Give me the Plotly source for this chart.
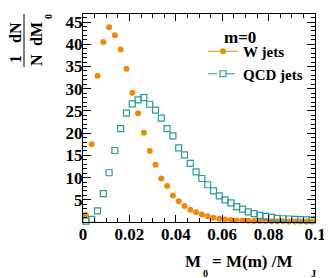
import numpy as np
import plotly.graph_objects as go

# ---- data ----
bin_lo, bin_hi, n_bins = 0.0, 0.1, 40
w_jets = [1.6, 17.5, 32.9, 40.5, 43.8, 42.0, 38.8, 34.5, 29.1, 24.5,
          20.1, 16.0, 12.9, 9.8, 8.1, 6.0, 4.7, 3.6, 2.8, 2.2,
          1.7, 1.3, 0.95, 0.75, 0.58, 0.45, 0.38, 0.33, 0.29, 0.26,
          0.24, 0.22, 0.20, 0.18, 0.17, 0.16, 0.15, 0.14, 0.13, 0.12]
qcd_jets = [0.2, 0.6, 2.5, 6.4, 11.1, 16.1, 21.0, 24.5, 26.6, 27.5,
            28.0, 26.5, 25.2, 23.4, 21.0, 19.4, 16.7, 15.1, 13.2, 11.3,
            9.8, 8.4, 7.0, 5.9, 5.0, 4.3, 3.5, 2.9, 2.3, 1.9,
            1.5, 1.3, 1.05, 0.85, 0.75, 0.7, 0.6, 0.55, 0.5, 0.5]
y_ticks = [5, 10, 15, 20, 25, 30, 35, 40, 45]

edges = np.linspace(bin_lo, bin_hi, n_bins + 1)
centers = 0.5 * (edges[:-1] + edges[1:])

ORANGE = "#ef8a0e"
TEAL = "#2a9a9a"
FONT = "Liberation Serif"

# page body has an 8px default margin: the figure starts at (8, 8) in the window
OFF = 8
WIN_W, WIN_H = 332, 278
W, H = WIN_W - OFF, WIN_H - OFF
# plot area in window pixels: x 83..315, y 14..222
X0, X1, Y0, Y1 = 83, 315, 14, 222
L, R, T, B = X0 - OFF, WIN_W - X1, Y0 - OFF, WIN_H - Y1
pw, ph = X1 - X0, Y1 - Y0


def px(x):
    return (x - X0) / pw


def py(y):
    return (Y1 - y) / ph


fig = go.Figure()
fig.add_trace(go.Scatter(x=centers, y=w_jets, mode="markers", showlegend=False,
                         marker=dict(symbol="circle", size=6, color=ORANGE),
                         cliponaxis=False))
fig.add_trace(go.Scatter(x=centers, y=qcd_jets, mode="markers", showlegend=False,
                         marker=dict(symbol="square-open", size=6, color=TEAL,
                                     line=dict(width=1.2, color=TEAL)),
                         cliponaxis=False))
# legend entries
fig.add_trace(go.Scatter(x=[None], y=[None], mode="lines+markers", name="W jets",
                         marker=dict(symbol="circle", size=6, color=ORANGE),
                         line=dict(color=ORANGE, width=1)))
fig.add_trace(go.Scatter(x=[None], y=[None], mode="lines+markers", name="QCD jets",
                         marker=dict(symbol="square-open", size=6, color=TEAL,
                                     line=dict(width=1.2, color=TEAL)),
                         line=dict(color=TEAL, width=1, dash="dash")))

axis_common = dict(showline=True, linecolor="black", linewidth=1, mirror="ticks",
                   ticks="inside", tickcolor="black", showgrid=False, zeroline=False,
                   automargin=False,
                   tickfont=dict(family=FONT, size=17, color="black", weight="bold"))

fig.update_xaxes(range=[0, 0.1], tickmode="linear", tick0=0, dtick=0.02, ticklen=7,
                 ticklabelstandoff=-3,
                 minor=dict(ticks="inside", dtick=0.005, ticklen=4, tickcolor="black"),
                 **axis_common)
fig.update_yaxes(range=[0.02, 46.8], tickmode="array", tickvals=y_ticks, ticklen=8,
                 ticklabelstandoff=-4,
                 minor=dict(ticks="inside", tick0=0, dtick=1, ticklen=4, tickcolor="black"),
                 **axis_common)

ann = []


def text(x, y, s, size=17, angle=0, xanchor="center"):
    ann.append(dict(x=px(x), y=py(y), xref="paper", yref="paper", text=s,
                    showarrow=False, textangle=angle, xanchor=xanchor, yanchor="middle",
                    font=dict(family=FONT, size=size, color="black", weight="bold")))


# y-axis title: (1/N) (dN/dM0), rotated
text(15, 59, "1", size=16, angle=-90)
text(36, 60, "N", size=16, angle=-90)
text(15, 33, "dN", size=16, angle=-90)
text(36, 34, "dM", size=16, angle=-90)
text(49, 17, "0", size=10, angle=-90)
# x-axis title
text(183, 261, "M", xanchor="left")
text(205, 273, "0", size=10)
text(210, 261, "= M(m) /M", xanchor="left")
text(313, 273, "J", size=10)
# legend header
text(222, 37, "m=0", xanchor="left")

shapes = [dict(type="line", xref="paper", yref="paper", x0=px(24), x1=px(24),
               y0=py(14), y1=py(67), line=dict(color="black", width=1))]

fig.update_layout(
    width=W, height=H, margin=dict(l=L, r=R, t=T, b=B, autoexpand=False),
    paper_bgcolor="white", plot_bgcolor="white",
    annotations=ann, shapes=shapes,
    showlegend=True,
    legend=dict(x=px(203), y=py(35), xanchor="left", yanchor="top",
                bgcolor="rgba(0,0,0,0)", borderwidth=0, itemwidth=30,
                tracegroupgap=0,
                font=dict(family=FONT, size=15, color="black", weight="bold")),
)

fig.write_html("out.html")
